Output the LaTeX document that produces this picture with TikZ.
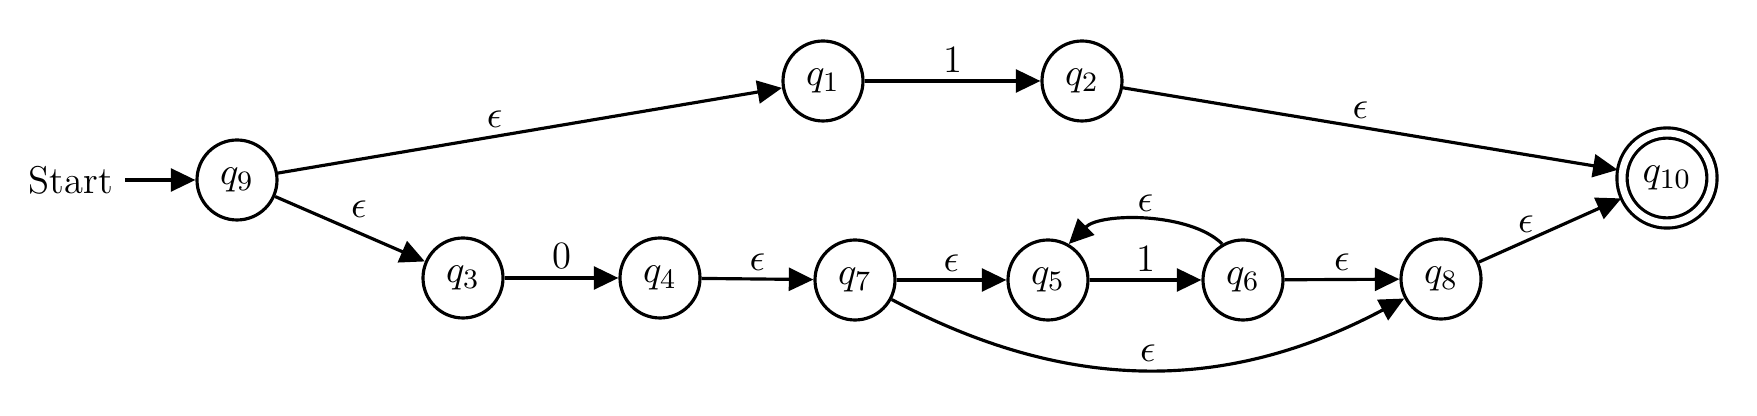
\documentclass[tikz,border=0pt]{standalone}
\usepackage{amsmath}
\usetikzlibrary{arrows.meta, positioning}

\begin{document}
\begin{tikzpicture}[
	font=\fontsize{11}{13}\selectfont,
	state/.style={circle,draw=black,line width=0.9pt,inner sep=0pt,minimum size=0.8cm},
	accept/.style={state,double,double distance=0.07cm,minimum size=0.9cm,outer sep=0.05cm},
	trans/.style={-{Triangle[length=7pt,width=6.5pt]},line width=0.9pt},
	lbl/.style={inner sep=2pt}
	]
	\useasboundingbox (0,0) rectangle (17.57,4.16);
	
	%states - upper branch
	\node[state]  (q9)  at (2.37,2.36)  {$q_9$};
	\node[state]  (q1)  at (8.23,3.35)  {$q_1$};
	\node[state]  (q2)  at (10.82,3.35) {$q_2$};
	\node[accept] (q10) at (16.67,2.38) {$q_{10}$};
	%states - lower branch
	\node[state] (q3) at (4.63,1.38)  {$q_3$};
	\node[state] (q4) at (6.60,1.38)  {$q_4$};
	\node[state] (q7) at (8.55,1.36)  {$q_7$};
	\node[state] (q5) at (10.48,1.36) {$q_5$};
	\node[state] (q6) at (12.43,1.36) {$q_6$};
	\node[state] (q8) at (14.41,1.37) {$q_8$};
	
	%start label
	\node (start) [left=0.7cm of q9] {Start};
	
	%transitions
	\draw [trans] (start) -- (q9);
	\draw [trans] (q9) -- node[lbl,above,pos=0.43] {$\epsilon$} (q1);
	\draw [trans] (q1) -- node[lbl,above] {1} (q2);
	\draw [trans] (q2) -- node[lbl,above,pos=0.48] {$\epsilon$} (q10);
	%
	\draw [trans] (q9) -- node[lbl,above right,pos=0.45] {$\epsilon$} (q3);
	\draw [trans] (q3) -- node[lbl,above] {0} (q4);
	\draw [trans] (q4) -- node[lbl,above] {$\epsilon$} (q7);
	\draw [trans] (q7) -- node[lbl,above] {$\epsilon$} (q5);
	\draw [trans] (q5) -- node[lbl,above] {1} (q6);
	\draw [trans] (q6) -- node[lbl,above] {$\epsilon$} (q8);
	\draw [trans] (q8) -- node[lbl,above,pos=0.33] {$\epsilon$} (q10);
	%
	\draw [trans] (q6.120) to[out=135,in=45,looseness=0.75] node[lbl,above] {$\epsilon$} (q5.60);
	\draw [trans] (q7) to[out=-28,in=-152] node[lbl,above] {$\epsilon$} (q8);
\end{tikzpicture}
\end{document}
